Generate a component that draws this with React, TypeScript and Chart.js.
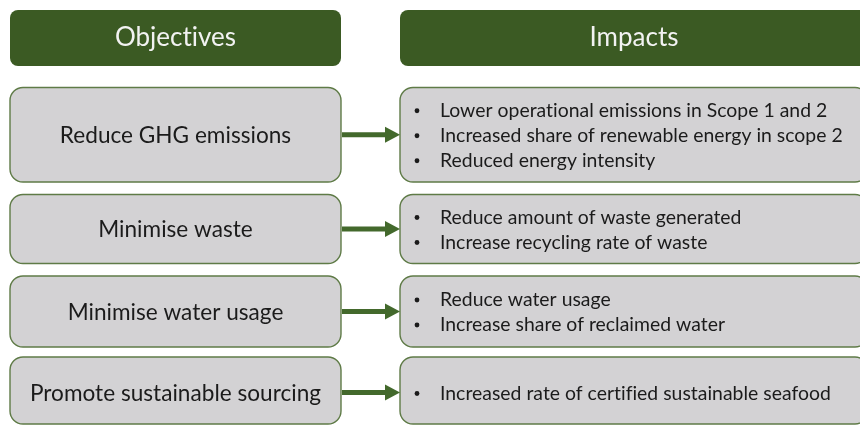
import React, { useEffect, useRef } from "react";
import { Chart, registerables } from "chart.js";

Chart.register(...registerables);

// ---- data ----
const headers: string[] = ["Objectives", "Impacts"];
const objectives: string[] = [
  "Reduce GHG emissions",
  "Minimise waste",
  "Minimise water usage",
  "Promote sustainable sourcing",
];
const impactsGHG: string[] = [
  "Lower operational emissions in Scope 1 and 2",
  "Increased share of renewable energy in scope 2",
  "Reduced energy intensity",
];
const impactsWaste: string[] = [
  "Reduce amount of waste generated",
  "Increase recycling rate of waste",
];
const impactsWater: string[] = [
  "Reduce water usage",
  "Increase share of reclaimed water",
];
const impactsSourcing: string[] = ["Increased rate of certified sustainable seafood"];
const impacts: string[][] = [impactsGHG, impactsWaste, impactsWater, impactsSourcing];

// ---- layout (diagram units = pixels of the reference) ----
const W = 860;
const H = 425;
const LEFT_X0 = 10;
const LEFT_X1 = 341;
const RIGHT_X0 = 400;
const RIGHT_X1 = 868;
const HEADER_Y0 = 10;
const HEADER_Y1 = 66;
const rowTops = [87.5, 194.5, 276, 357];
const rowBottoms = [182, 263.5, 347, 424];

const GREEN = "#3b5a23";
const ARROW = "#43692c";
const BOX_FILL = "#d3d2d4";
const BOX_BORDER = "#5f7b47";
const TEXT = "#1b1b1b";
const FONT = "Lato, 'Open Sans', sans-serif";

const diagramPlugin = {
  id: "diagram",
  afterDraw(chart: any) {
    const ctx: any = chart.ctx;
    const xs = chart.scales.x;
    const ys = chart.scales.y;
    const X = (v: number) => xs.getPixelForValue(v);
    const Y = (v: number) => ys.getPixelForValue(v);

    const rbox = (x0: number, y0: number, x1: number, y1: number, r: number, fill: string, stroke?: string) => {
      ctx.beginPath();
      ctx.roundRect(X(x0), Y(y0), X(x1) - X(x0), Y(y1) - Y(y0), r);
      ctx.fillStyle = fill;
      ctx.fill();
      if (stroke) {
        ctx.lineWidth = 1.4;
        ctx.strokeStyle = stroke;
        ctx.stroke();
      }
    };

    ctx.save();
    try {
      ctx.letterSpacing = "0.01px";
    } catch (e) {}
    // headers
    rbox(LEFT_X0, HEADER_Y0, LEFT_X1, HEADER_Y1, 8, GREEN);
    rbox(RIGHT_X0, HEADER_Y0, RIGHT_X1, HEADER_Y1, 8, GREEN);
    ctx.fillStyle = "#f2f2f2";
    ctx.font = `26px ${FONT}`;
    ctx.textAlign = "center";
    ctx.textBaseline = "middle";
    ctx.fillText(headers[0], X((LEFT_X0 + LEFT_X1) / 2), Y((HEADER_Y0 + HEADER_Y1) / 2));
    ctx.fillText(headers[1], X((RIGHT_X0 + RIGHT_X1) / 2), Y((HEADER_Y0 + HEADER_Y1) / 2));

    objectives.forEach((obj, i) => {
      const y0 = rowTops[i];
      const y1 = rowBottoms[i];
      const cy = i === 3 ? 392.5 : (y0 + y1) / 2;
      // left box
      rbox(LEFT_X0, y0, LEFT_X1, y1, 13, BOX_FILL, BOX_BORDER);
      ctx.fillStyle = TEXT;
      ctx.font = `22.6px ${FONT}`;
      ctx.textAlign = "center";
      ctx.textBaseline = "middle";
      ctx.fillText(obj, X((LEFT_X0 + LEFT_X1) / 2), Y(cy + 1));
      // right box
      rbox(RIGHT_X0, y0, RIGHT_X1, y1, 13, BOX_FILL, BOX_BORDER);
      const lines = impacts[i];
      const lh = 25;
      const start = cy - ((lines.length - 1) * lh) / 2;
      ctx.fillStyle = TEXT;
      ctx.font = `19.4px ${FONT}`;
      ctx.textAlign = "left";
      ctx.textBaseline = "middle";
      lines.forEach((ln, j) => {
        const ly = start + j * lh;
        ctx.beginPath();
        ctx.arc(X(417), Y(ly + 1), 2.4, 0, Math.PI * 2);
        ctx.fill();
        ctx.fillText(ln, X(440), Y(ly + 1));
      });
      // arrow
      ctx.strokeStyle = ARROW;
      ctx.fillStyle = ARROW;
      ctx.lineWidth = 5;
      ctx.beginPath();
      ctx.moveTo(X(LEFT_X1 + 1), Y(cy));
      ctx.lineTo(X(387), Y(cy));
      ctx.stroke();
      ctx.beginPath();
      ctx.moveTo(X(385), Y(cy - 8));
      ctx.lineTo(X(400), Y(cy));
      ctx.lineTo(X(385), Y(cy + 8));
      ctx.closePath();
      ctx.fill();
    });
    ctx.restore();
  },
};

export default function App() {
  const ref = useRef<HTMLCanvasElement | null>(null);
  useEffect(() => {
    if (!ref.current) return;
    const chart = new Chart(ref.current, {
      type: "scatter",
      data: { datasets: [{ data: [] }] },
      options: {
        animation: false,
        responsive: false,
        maintainAspectRatio: false,
        layout: { padding: 0 },
        plugins: { legend: { display: false }, tooltip: { enabled: false } },
        scales: {
          x: { type: "linear", min: 0, max: W, display: false },
          y: { type: "linear", min: 0, max: H, reverse: true, display: false },
        },
      },
      plugins: [diagramPlugin],
    });
    return () => chart.destroy();
  }, []);
  return (
    <div style={{ position: "fixed", left: 0, top: 0, width: W, height: H, background: "#ffffff" }}>
      <canvas ref={ref} width={W} height={H} style={{ display: "block", width: W, height: H }} />
    </div>
  );
}
